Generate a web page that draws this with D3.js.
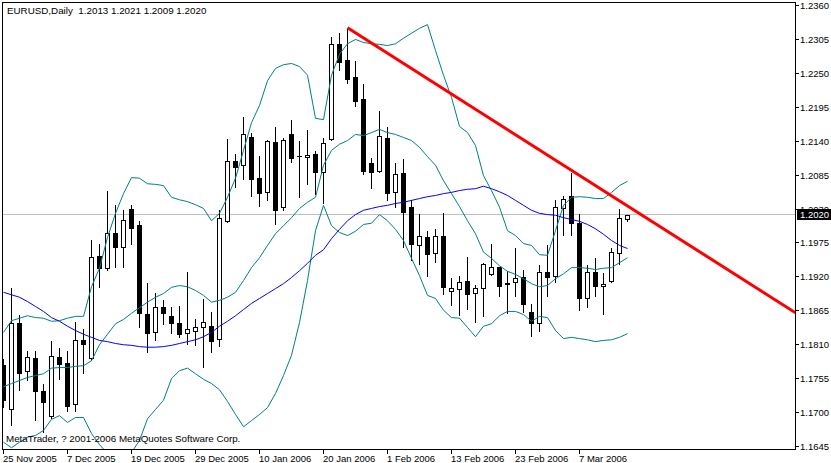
<!DOCTYPE html>
<html><head><meta charset="utf-8">
<script src="https://cdn.jsdelivr.net/npm/d3@7"></script>
<style>
html,body{margin:0;padding:0;background:#fff;}
svg{display:block;}
text{font-family:"Liberation Sans",Arial,sans-serif;font-size:9.5px;fill:#000;}
</style></head><body>
<svg id="c" width="831" height="463"></svg>
<script>
// ---- data (EURUSD Daily) ----
const openP = [1.1776,1.1705,1.1844,1.1767,1.1788,1.1734,1.1694,1.1789,1.1780,1.1713,
1.1817,1.1788,1.1953,1.1934,1.1990,1.1968,1.2029,1.2003,1.1859,1.1830,
1.1870,1.1856,1.1844,1.1828,1.1831,1.1838,1.1840,1.1818,1.2010,1.2107,
1.2101,1.2146,1.2080,1.2057,1.2138,1.2033,1.2151,1.2115,1.2114,1.2118,
1.2089,1.2143,1.2297,1.2271,1.2243,1.2208,1.2104,1.2091,1.2144,1.2057,
1.2088,1.2033,1.1971,1.1984,1.1958,1.1985,1.1896,1.1900,1.1913,1.1893,
1.1901,1.1924,1.1935,1.1909,1.1911,1.1919,1.1862,1.1844,1.1927,1.1921,
1.2031,1.2050,1.2007,1.1885,1.1927,1.1904,1.1913,1.1958,1.2013];
const highP = [1.1788,1.1903,1.1859,1.1801,1.1801,1.1747,1.1817,1.1806,1.1801,1.1848,
1.1836,1.1981,1.1974,1.2060,1.2037,1.2029,1.2037,1.2011,1.1911,1.1895,
1.1883,1.1872,1.1874,1.1929,1.1853,1.1885,1.1864,1.2029,1.2144,1.2120,
1.2180,1.2154,1.2117,1.2143,1.2164,1.2146,1.2175,1.2141,1.2159,1.2125,
1.2146,1.2310,1.2316,1.2323,1.2271,1.2234,1.2114,1.2190,1.2164,1.2105,
1.2112,1.2045,1.2023,1.1995,1.1998,1.2024,1.1919,1.1922,1.1953,1.1908,
1.1943,1.1974,1.1937,1.1930,1.1968,1.1932,1.1877,1.1940,1.1972,1.2045,
1.2052,1.2089,1.2023,1.1940,1.1951,1.1927,1.1968,1.2031,1.2021];
const lowP = [1.1708,1.1679,1.1736,1.1752,1.1687,1.1668,1.1690,1.1754,1.1702,1.1702,
1.1763,1.1784,1.1903,1.1930,1.1935,1.1935,1.1972,1.1838,1.1797,1.1817,
1.1843,1.1828,1.1822,1.1810,1.1809,1.1773,1.1797,1.1807,1.2008,1.2065,
1.2078,1.2050,1.2034,1.2044,1.2005,1.2028,1.2105,1.2049,1.2070,1.2054,
1.2039,1.2141,1.2255,1.2234,1.2196,1.2086,1.2063,1.2089,1.2044,1.2033,
1.1968,1.1947,1.1940,1.1921,1.1943,1.1891,1.1874,1.1857,1.1867,1.1846,
1.1856,1.1922,1.1888,1.1861,1.1888,1.1862,1.1823,1.1831,1.1888,1.1911,
1.1987,1.1987,1.1866,1.1870,1.1888,1.1859,1.1911,1.1940,1.2009];
const closeP = [1.1720,1.1844,1.1763,1.1789,1.1734,1.1716,1.1791,1.1778,1.1710,1.1817,
1.1810,1.1951,1.1934,1.1990,1.1968,1.2011,1.1998,1.1861,1.1828,1.1870,
1.1861,1.1844,1.1827,1.1835,1.1838,1.1846,1.1815,1.2015,1.2107,1.2097,
1.2151,1.2078,1.2055,1.2140,1.2028,1.2141,1.2112,1.2115,1.2117,1.2089,
1.2136,1.2297,1.2268,1.2240,1.2204,1.2091,1.2089,1.2148,1.2055,1.2086,
1.2024,1.1972,1.1985,1.1956,1.1985,1.1903,1.1901,1.1911,1.1891,1.1901,
1.1940,1.1935,1.1904,1.1908,1.1917,1.1875,1.1844,1.1927,1.1919,1.2033,
1.2045,1.2007,1.1885,1.1927,1.1904,1.1908,1.1960,1.2015,1.2020];
const bbUpper = [1.1830,1.1849,1.1853,1.1857,1.1854,1.1853,1.1848,1.1849,1.1853,1.1856,
1.1856,1.1904,1.1934,1.1984,1.2023,1.2055,1.2081,1.2080,1.2071,1.2070,
1.2068,1.2049,1.2045,1.2042,1.2037,1.2031,1.2011,1.2023,1.2049,1.2080,
1.2125,1.2170,1.2198,1.2238,1.2258,1.2264,1.2266,1.2261,1.2247,1.2177,
1.2175,1.2247,1.2281,1.2298,1.2305,1.2300,1.2298,1.2297,1.2295,1.2298,
1.2307,1.2315,1.2323,1.2329,1.2287,1.2247,1.2211,1.2164,1.2154,1.2133,
1.2084,1.2060,1.2033,1.1995,1.1987,1.1974,1.1971,1.1956,1.1955,1.1995,
1.2036,1.2049,1.2050,1.2049,1.2047,1.2047,1.2057,1.2068,1.2075];
const bbMiddle = [1.1742,1.1747,1.1752,1.1757,1.1760,1.1763,1.1772,1.1773,1.1773,1.1775,
1.1776,1.1784,1.1810,1.1827,1.1844,1.1851,1.1861,1.1870,1.1879,1.1887,
1.1893,1.1903,1.1906,1.1904,1.1898,1.1890,1.1879,1.1882,1.1887,1.1895,
1.1914,1.1935,1.1951,1.1971,1.1990,1.2003,1.2016,1.2031,1.2041,1.2049,
1.2101,1.2125,1.2135,1.2141,1.2151,1.2149,1.2154,1.2159,1.2154,1.2151,
1.2146,1.2141,1.2130,1.2115,1.2101,1.2076,1.2055,1.2034,1.2011,1.1990,
1.1960,1.1950,1.1938,1.1929,1.1924,1.1917,1.1909,1.1904,1.1906,1.1917,
1.1925,1.1935,1.1935,1.1934,1.1932,1.1934,1.1935,1.1943,1.1951];
const bbLower = [1.1652,1.1643,1.1652,1.1660,1.1663,1.1671,1.1689,1.1695,1.1684,1.1692,
1.1692,1.1666,1.1648,1.1634,1.1627,1.1627,1.1635,1.1655,1.1690,1.1705,
1.1720,1.1755,1.1768,1.1772,1.1763,1.1754,1.1747,1.1737,1.1718,1.1697,
1.1677,1.1687,1.1697,1.1708,1.1731,1.1760,1.1793,1.1846,1.1914,1.1995,
1.2036,1.2003,1.1992,1.1987,1.1994,1.2005,1.2007,1.2021,1.2011,1.1997,
1.1979,1.1950,1.1922,1.1890,1.1885,1.1866,1.1854,1.1853,1.1838,1.1823,
1.1840,1.1844,1.1857,1.1864,1.1864,1.1859,1.1848,1.1856,1.1854,1.1833,
1.1820,1.1822,1.1820,1.1818,1.1815,1.1817,1.1818,1.1822,1.1828];
const maBlue = [1.1895,1.1891,1.1887,1.1880,1.1872,1.1864,1.1854,1.1848,1.1840,1.1833,
1.1827,1.1822,1.1817,1.1815,1.1812,1.1810,1.1809,1.1807,1.1806,1.1806,
1.1807,1.1809,1.1812,1.1815,1.1818,1.1823,1.1830,1.1840,1.1848,1.1857,
1.1867,1.1877,1.1885,1.1893,1.1901,1.1909,1.1919,1.1930,1.1942,1.1955,
1.1964,1.1982,1.1997,1.2011,1.2021,1.2028,1.2031,1.2034,1.2036,1.2039,
1.2041,1.2044,1.2047,1.2050,1.2052,1.2055,1.2057,1.2060,1.2062,1.2063,
1.2067,1.2063,1.2058,1.2052,1.2044,1.2036,1.2028,1.2023,1.2021,1.2020,
1.2016,1.2013,1.2010,1.2005,1.1998,1.1989,1.1979,1.1971,1.1966];
const priceTicks = [1.2360,1.2305,1.2250,1.2195,1.2140,1.2085,1.2030,1.1975,1.1920,1.1865,1.1810,1.1755,1.1700,1.1645];
const dateLabels = ["25 Nov 2005","7 Dec 2005","19 Dec 2005","29 Dec 2005","10 Jan 2006","20 Jan 2006","1 Feb 2006","13 Feb 2006","23 Feb 2006","7 Mar 2006"];
const dateLabelBars = [0,8,16,24,32,40,48,56,64,72];
const trendBars = [43,99];
const trendPrices = [1.2323,1.1861];
const currentPrice = 1.2020;
const titleText = "EURUSD,Daily  1.2013 1.2021 1.2009 1.2020";
const copyrightText = "MetaTrader, ? 2001-2006 MetaQuotes Software Corp.";

// ---- drawing ----
const svg = d3.select('#c');
const x = d3.scaleLinear().domain([0,99]).range([3,795]);
const y = d3.scaleLinear().domain([1.1645,1.2360]).range([446,5]);
const px = v => Math.round(v) + 0.5;

svg.append('rect').attr('width',831).attr('height',463).attr('fill','#fff');
svg.append('defs').append('clipPath').attr('id','clip')
  .append('rect').attr('x',3).attr('y',3).attr('width',792).attr('height',446);
const g = svg.append('g').attr('clip-path','url(#clip)');

// bid line
g.append('line').attr('x1',3).attr('x2',795)
  .attr('y1',Math.floor(y(currentPrice))+0.5).attr('y2',Math.floor(y(currentPrice))+0.5)
  .attr('stroke','#c0c0c0').attr('stroke-width',1).attr('shape-rendering','crispEdges');

// candles
const bars = d3.range(openP.length);
const cg = g.append('g').attr('shape-rendering','crispEdges');
cg.selectAll('line.wick').data(bars).join('line').attr('class','wick')
  .attr('x1',i=>px(x(i))).attr('x2',i=>px(x(i)))
  .attr('y1',i=>px(y(highP[i]))).attr('y2',i=>px(y(lowP[i]))+0.5)
  .attr('stroke','#000').attr('stroke-width',1);
cg.selectAll('rect.body').data(bars.filter(i=>Math.abs(openP[i]-closeP[i])>0.00005)).join('rect').attr('class','body')
  .attr('x',i=>px(x(i))-2).attr('width',4)
  .attr('y',i=>px(y(Math.max(openP[i],closeP[i]))))
  .attr('height',i=>Math.max(1,Math.round(y(Math.min(openP[i],closeP[i])))-Math.round(y(Math.max(openP[i],closeP[i])))))
  .attr('fill',i=>closeP[i]>openP[i]?'#fff':'#000')
  .attr('stroke','#000').attr('stroke-width',1);
cg.selectAll('line.doji').data(bars.filter(i=>Math.abs(openP[i]-closeP[i])<=0.00005)).join('line').attr('class','doji')
  .attr('x1',i=>px(x(i))-2.5).attr('x2',i=>px(x(i))+2.5)
  .attr('y1',i=>px(y(openP[i]))).attr('y2',i=>px(y(openP[i])))
  .attr('stroke','#000').attr('stroke-width',1);

// indicator lines
const line = d3.line().x((d,i)=>x(i)+0.5).y(d=>y(d)+0.5);
[[bbUpper,'#008080'],[bbMiddle,'#008080'],[bbLower,'#008080'],[maBlue,'#0000ff']].forEach(([s,c])=>{
  g.append('path').attr('d',line(s)).attr('fill','none').attr('stroke',c).attr('stroke-width',1);
});

// trend line
g.append('line')
  .attr('x1',x(trendBars[0])+0.5).attr('y1',y(trendPrices[0]))
  .attr('x2',x(trendBars[1])+0.5).attr('y2',y(trendPrices[1]))
  .attr('stroke','#ff0000').attr('stroke-width',3);

// frame
svg.append('rect').attr('x',2.5).attr('y',2.5).attr('width',793).attr('height',447)
  .attr('fill','none').attr('stroke','#000').attr('stroke-width',1).attr('shape-rendering','crispEdges');

// price axis
const pa = svg.append('g');
priceTicks.forEach(p=>{
  const yy = Math.round(y(p))+0.5;
  pa.append('line').attr('x1',796).attr('x2',799).attr('y1',yy).attr('y2',yy).attr('stroke','#000').attr('shape-rendering','crispEdges');
  pa.append('text').attr('x',800).attr('y',yy+3.5).text(p.toFixed(4));
});
// current price box (covers the lower part of the neighbouring tick label, as in MetaTrader)
const cy = Math.floor(y(currentPrice));
pa.append('rect').attr('x',797).attr('y',cy-5).attr('width',34).attr('height',11).attr('fill','#000');
pa.append('text').attr('x',800).attr('y',cy+3.5).style('fill','#fff').text(currentPrice.toFixed(4));

// date axis
const da = svg.append('g');
dateLabelBars.forEach((b,k)=>{
  const xx = Math.round(x(b))+0.5;
  da.append('line').attr('x1',xx).attr('x2',xx).attr('y1',450).attr('y2',454).attr('stroke','#000').attr('shape-rendering','crispEdges');
  da.append('text').attr('x',xx-0.5).attr('y',462).text(dateLabels[k]);
});

// title & copyright
svg.append('text').attr('x',7).attr('y',14).style('font-size','9.8px').style('white-space','pre').text(titleText);
svg.append('text').attr('x',6).attr('y',442).style('font-size','9.8px').text(copyrightText);
</script>
</body></html>
